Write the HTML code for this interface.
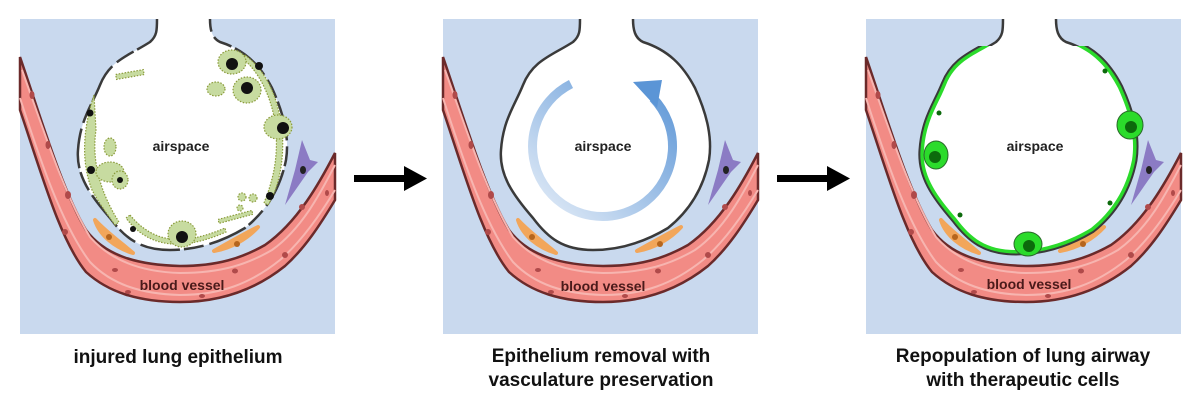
<!DOCTYPE html>
<html><head><meta charset="utf-8"><style>
html,body{margin:0;padding:0;background:#fff;width:1200px;height:406px;overflow:hidden}
svg{position:absolute;left:0;top:0}
.t{font-family:"Liberation Sans",sans-serif;font-weight:bold}
</style></head><body>
<svg width="1200" height="406" viewBox="0 0 1200 406">
<defs>
<linearGradient id="ga" x1="0" y1="1" x2="1" y2="0">
<stop offset="0" stop-color="#e6eef8"/><stop offset="1" stop-color="#5b95d6"/></linearGradient>
<clipPath id="below"><rect x="0" y="46" width="315" height="300"/></clipPath>
<g id="base">
<rect x="0" y="19" width="315" height="315" fill="#c9d9ee"/>
<path d="M0,57 C20,115 42,190 66,230 C86,257 120,265 160,266 C198,266 222,258 245,245 C278,222 300,182 315,153 L315,200 C300,225 285,248 265,266 C235,290 200,302 160,302 C118,302 88,292 66,272 C40,240 22,175 0,110 Z" fill="#f28b85" stroke="#6b2a2a" stroke-width="2.5"/>
<path d="M2,70 C22,125 44,195 70,237 C92,262 124,272 160,273 C202,273 228,264 252,250 C283,228 302,190 315,165" fill="none" stroke="#f7b5b0" stroke-width="2"/>
<path d="M0,98 C20,160 42,225 70,262 C92,285 122,294 160,295 C200,295 230,284 260,260 C282,241 300,215 315,190" fill="none" stroke="#f7b5b0" stroke-width="2"/>
<g fill="#b04a4a"><ellipse cx="12" cy="95" rx="2.5" ry="4"/><ellipse cx="28" cy="145" rx="2.5" ry="4"/><ellipse cx="48" cy="195" rx="3" ry="4"/><ellipse cx="45" cy="232" rx="3" ry="3"/><ellipse cx="95" cy="270" rx="3" ry="2"/><ellipse cx="108" cy="292" rx="3" ry="2"/><ellipse cx="182" cy="296" rx="3" ry="2"/><ellipse cx="215" cy="271" rx="3" ry="2.5"/><ellipse cx="265" cy="255" rx="3" ry="3"/><ellipse cx="282" cy="207" rx="3" ry="3"/><ellipse cx="307" cy="193" rx="2" ry="3"/></g>
<path d="M282,140 L290,160 L298,162 L288,172 L265,205 L275,170 Z" fill="#8b7bc4"/>
<ellipse cx="283" cy="170" rx="3" ry="4" fill="#222"/>
<path d="M75,220 C80,236 96,248 113,253 C100,242 86,232 75,220 Z" fill="#f2a65a" stroke="#f2a65a" stroke-width="4" stroke-linejoin="round"/>
<circle cx="89" cy="237" r="3" fill="#b5651d"/>
<path d="M194,251 C212,248 228,238 238,227 C224,234 210,242 194,251 Z" fill="#f2a65a" stroke="#f2a65a" stroke-width="4" stroke-linejoin="round"/>
<circle cx="217" cy="244" r="3" fill="#b5651d"/>
</g>
<path id="air" d="M137,19 C137,30 137,36 130,42 C110,55 90,60 80,85 C72,105 60,120 58,150 C56,175 70,195 90,218 C105,238 120,250 150,250 C180,250 205,240 225,228 C245,212 260,190 266,160 C270,135 262,110 252,88 C240,65 225,50 200,42 C192,38 190,30 190,19"/>
</defs>

<!-- Panel 1 -->
<g transform="translate(20,0)">
<use href="#base"/>
<use href="#air" fill="#fff" stroke="#3a3a3a" stroke-width="2.5" stroke-dasharray="40 4 20 6"/>
<g fill="#c7dba0" stroke="#8a9a3a" stroke-width="1.2" stroke-dasharray="1.5 1.5">
<path d="M74,95 C64,125 60,160 72,190 C80,205 88,215 95,225 L99,222 C88,205 70,170 76,130 Z"/>
<path d="M110,215 C135,245 165,245 205,228 L206,232 C165,250 130,250 106,218 Z"/>
<path d="M225,55 C245,70 258,95 262,130 C265,160 258,190 248,205 L244,203 C253,180 258,160 256,130 C253,100 240,72 222,58 Z"/>
<ellipse cx="212" cy="62" rx="14" ry="12"/><ellipse cx="227" cy="90" rx="14" ry="13"/><ellipse cx="196" cy="89" rx="9" ry="7"/>
<ellipse cx="258" cy="127" rx="14" ry="12"/><ellipse cx="90" cy="147" rx="6" ry="9"/>
<ellipse cx="90" cy="172" rx="14" ry="10"/><ellipse cx="100" cy="180" rx="8" ry="9"/>
<ellipse cx="162" cy="234" rx="14" ry="13"/><circle cx="222" cy="197" r="4"/><circle cx="233" cy="198" r="4"/><circle cx="220" cy="208" r="3"/>
<rect x="96" y="72" width="28" height="5" transform="rotate(-10 110 75)"/>
<rect x="198" y="215" width="35" height="4" transform="rotate(-15 215 217)"/>
</g>
<g fill="#111"><circle cx="212" cy="64" r="6"/><circle cx="227" cy="88" r="6"/><circle cx="239" cy="66" r="4"/><circle cx="263" cy="128" r="6"/><circle cx="70" cy="113" r="3.5"/><circle cx="71" cy="170" r="4"/><circle cx="100" cy="180" r="3"/><circle cx="162" cy="237" r="6"/><circle cx="250" cy="196" r="4"/><circle cx="113" cy="229" r="3"/></g>
<text class="t" x="161" y="151" font-size="14" text-anchor="middle" fill="#222">airspace</text>
<text class="t" x="162" y="290" font-size="14" text-anchor="middle" fill="#4a1a1a">blood vessel</text>
</g>

<!-- Panel 2 -->
<g transform="translate(443,0)">
<use href="#base"/>
<use href="#air" fill="#fff" stroke="#3a3a3a" stroke-width="2.5"/>
<path d="M128,84 A70,70 0 1 0 210,98" fill="none" stroke="url(#ga)" stroke-width="9"/>
<path d="M190,82 L219,80 L214,108 Z" fill="#5b95d6"/>
<text class="t" x="160" y="151" font-size="14" text-anchor="middle" fill="#222">airspace</text>
<text class="t" x="160" y="291" font-size="14" text-anchor="middle" fill="#4a1a1a">blood vessel</text>
</g>

<!-- Panel 3 -->
<g transform="translate(866,0)">
<use href="#base"/>
<use href="#air" fill="#fff" stroke="#3a3a3a" stroke-width="2.5"/>
<g clip-path="url(#below)">
<use href="#air" fill="none" stroke="#3a3a3a" stroke-width="11"/>
<use href="#air" fill="none" stroke="#2bdb2b" stroke-width="7"/>
<use href="#air" fill="#fff" stroke="none"/>
</g>
<g fill="#2bdb2b" stroke="#2a6a2a" stroke-width="1"><ellipse cx="70" cy="155" rx="12" ry="14"/><ellipse cx="264" cy="125" rx="13" ry="14"/><ellipse cx="162" cy="244" rx="14" ry="12"/></g>
<g fill="#0c6a0c"><circle cx="69" cy="157" r="6"/><circle cx="265" cy="127" r="6"/><circle cx="163" cy="246" r="6"/><circle cx="73" cy="113" r="2.5"/><circle cx="239" cy="71" r="2.5"/><circle cx="244" cy="203" r="2.5"/><circle cx="94" cy="215" r="2.5"/></g>
<text class="t" x="169" y="151" font-size="14" text-anchor="middle" fill="#222">airspace</text>
<text class="t" x="163" y="289" font-size="14" text-anchor="middle" fill="#4a1a1a">blood vessel</text>
</g>

<!-- Arrows -->
<g fill="#000"><rect x="354" y="175" width="52" height="7"/><path d="M404,166 L427,178.5 L404,191 Z"/>
<rect x="777" y="175" width="52" height="7"/><path d="M827,166 L850,178.5 L827,191 Z"/></g>

<text class="t" x="178" y="363" font-size="19" text-anchor="middle" fill="#111">injured lung epithelium</text>
<text class="t" x="601" y="362" font-size="19" text-anchor="middle" fill="#111">Epithelium removal with</text>
<text class="t" x="601" y="386" font-size="19" text-anchor="middle" fill="#111">vasculature preservation</text>
<text class="t" x="1023" y="362" font-size="19" text-anchor="middle" fill="#111">Repopulation of lung airway</text>
<text class="t" x="1023" y="386" font-size="19" text-anchor="middle" fill="#111">with therapeutic cells</text>
</svg>
</body></html>
